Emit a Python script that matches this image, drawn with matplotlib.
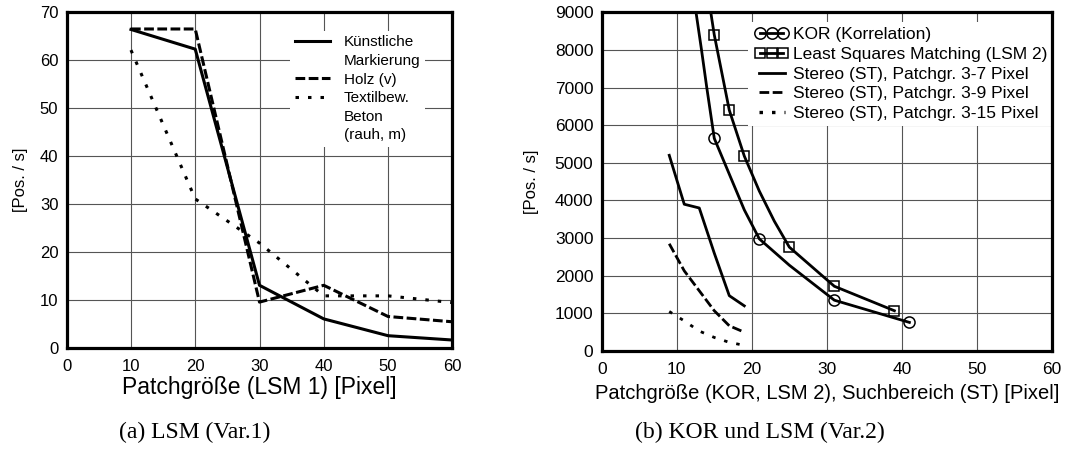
import numpy as np
import matplotlib
matplotlib.use("Agg")
import matplotlib.pyplot as plt
from matplotlib.lines import Line2D
from matplotlib.legend_handler import HandlerLine2D

plt.rcParams["font.family"] = ["Liberation Sans", "DejaVu Sans"]
plt.rcParams["lines.scale_dashes"] = False

# ---- (a) LSM (Var.1) ----
patch_a = [10, 20, 30, 40, 50, 60]
kuenstlich = [66.3, 62.2, 13.0, 6.0, 2.5, 1.6]
holz = [66.4, 66.4, 9.5, 13.0, 6.5, 5.4]
textil = [62.0, 31.0, 21.8, 10.8, 10.8, 9.4]

# ---- (b) KOR und LSM (Var.2) ----
kor_x = [12.2, 13.3, 14.0, 15.0, 17.0, 19.0, 21.0, 25.0, 31.0, 41.0]
kor_y = [9500, 8000, 7000, 5650, 4700, 3750, 2980, 2280, 1350, 760]
kor_marks = [3, 6, 8, 9]
lsm_x = [14.3, 15.0, 17.0, 19.0, 21.0, 23.0, 25.0, 31.0, 39.0]
lsm_y = [9300, 8400, 6400, 5180, 4250, 3450, 2760, 1720, 1070]
lsm_marks = [1, 2, 3, 6, 7, 8]
st_x = [9, 11, 13, 15, 17, 19]
st_37 = [5200, 3900, 3800, 2600, 1470, 1200]
st_39 = [2850, 2130, 1600, 1070, 670, 500]
st_315_x = [9, 11, 13, 15, 17, 18.5]
st_315 = [1050, 800, 530, 360, 230, 170]

DASH = (0, (7, 2.5))
DOT = (0, (2.5, 6.5))

fig = plt.figure(figsize=(10.72, 4.53), dpi=100)
ax1 = fig.add_axes([66.7/1072, 1-347.7/453, 385.6/1072, 336/453])
ax2 = fig.add_axes([601.7/1072, 1-351/453, 450.3/1072, 338.7/453])

for ax in (ax1, ax2):
    ax.set_axisbelow(True)
    ax.grid(True, color="#555555", lw=0.8)
    for sp in ax.spines.values():
        sp.set_linewidth(2.3)
        sp.set_zorder(6)
    ax.tick_params(length=0)
    ax.tick_params(axis="x", pad=8)
    ax.tick_params(axis="y", pad=6)

# left panel
l1, = ax1.plot(patch_a, kuenstlich, color="k", lw=2.2)
l2, = ax1.plot(patch_a, holz, color="k", lw=2.2, ls=DASH)
l3, = ax1.plot(patch_a, textil, color="k", lw=2.2, ls=DOT)
ax1.set_xlim(0, 60); ax1.set_ylim(0, 70)
ax1.set_xticks(np.arange(0, 61, 10)); ax1.set_yticks(np.arange(0, 71, 10))
ax1.tick_params(labelsize=12)
ax1.set_xlabel("Patchgröße (LSM 1) [Pixel]", fontsize=16.5)
ax1.xaxis.set_label_coords(0.5, -0.084)
ax1.set_ylabel("[Pos. / s]", fontsize=12)
ax1.yaxis.set_label_coords(-0.1, 0.5)

blank = Line2D([], [], lw=0)
leg1 = ax1.legend([l1, blank, l2, l3, blank, blank],
                  ["Künstliche", "Markierung", "Holz (v)", "Textilbew.", "Beton", "(rauh, m)"],
                  loc="upper right", bbox_to_anchor=(0.929, 0.943), borderaxespad=0,
                  fontsize=11, borderpad=0.3, handlelength=2.3, handletextpad=0.9,
                  labelspacing=0.3, fancybox=False, edgecolor="none", framealpha=1)
leg1.set_zorder(3)

# right panel
ax2.plot(kor_x, kor_y, color="k", lw=2, marker="o", ms=8, mfc="none", mew=1.1, markevery=kor_marks)
ax2.plot(lsm_x, lsm_y, color="k", lw=2, marker="s", ms=7.5, mfc="none", mew=1.1, markevery=lsm_marks)
ax2.plot(st_x, st_37, color="k", lw=2)
ax2.plot(st_x, st_39, color="k", lw=2, ls=DASH)
ax2.plot(st_315_x, st_315, color="k", lw=2, ls=DOT)
ax2.set_xlim(0, 60); ax2.set_ylim(0, 9000)
ax2.set_xticks(np.arange(0, 61, 10)); ax2.set_yticks(np.arange(0, 9001, 1000))
ax2.tick_params(labelsize=12.5)
ax2.set_xlabel("Patchgröße (KOR, LSM 2), Suchbereich (ST) [Pixel]", fontsize=14.5)
ax2.xaxis.set_label_coords(0.5, -0.097)
ax2.set_ylabel("[Pos. / s]", fontsize=12)
ax2.yaxis.set_label_coords(-0.14, 0.5)

h_kor = Line2D([], [], color="k", lw=2, marker="o", ms=8.2, mfc="none", mew=1.1)
h_lsm = Line2D([], [], color="k", lw=2, marker="s", ms=7.6, mfc="none", mew=1.1)
h_37 = Line2D([], [], color="k", lw=2)
h_39 = Line2D([], [], color="k", lw=2, ls=DASH)
h_315 = Line2D([], [], color="k", lw=2.4, ls=DOT)
leg2 = ax2.legend([h_kor, h_lsm, h_37, h_39, h_315],
                  ["KOR (Korrelation)", "Least Squares Matching (LSM 2)",
                   "Stereo (ST), Patchgr. 3-7 Pixel", "Stereo (ST), Patchgr. 3-9 Pixel",
                   "Stereo (ST), Patchgr. 3-15 Pixel"],
                  handler_map={h_kor: HandlerLine2D(marker_pad=0.38),
                               h_lsm: HandlerLine2D(marker_pad=0.38)},
                  loc="upper right", bbox_to_anchor=(1.002, 0.971), borderaxespad=0,
                  fontsize=12.5, borderpad=0.3, handlelength=2.1, handletextpad=0.2,
                  labelspacing=0.26, numpoints=3, fancybox=False, edgecolor="none", framealpha=1)
leg2.set_zorder(3)

fig.text(195/1072, 1-432/453, "(a) LSM (Var.1)", family="Liberation Serif",
         fontsize=17, ha="center", va="center")
fig.text(760/1072, 1-432/453, "(b) KOR und LSM (Var.2)", family="Liberation Serif",
         fontsize=17, ha="center", va="center")

fig.savefig("out.png", dpi=100)
